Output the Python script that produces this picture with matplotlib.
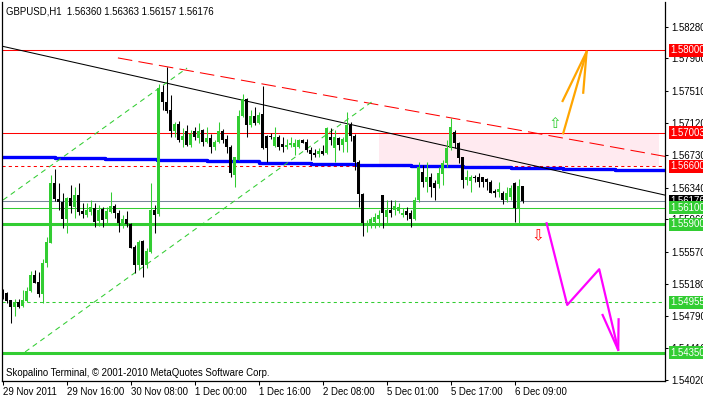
import numpy as np
import matplotlib
matplotlib.use('Agg')
import matplotlib.pyplot as plt
import matplotlib.transforms as mtransforms
from matplotlib.patches import Rectangle

TITLE = 'GBPUSD,H1  1.56360 1.56363 1.56157 1.56176'
COPYRIGHT = 'Skopalino Terminal, \u00a9 2001-2010 MetaQuotes Software Corp.'

# H1 candles, bar 0 = 29 Nov 2011 00:00
OPEN = [1.55094, 1.55070, 1.54985, 1.54901, 1.54961, 1.54913, 1.54973, 1.55094, 1.55287, 1.55202,
        1.55057, 1.55432, 1.55673, 1.56397, 1.56204, 1.56168, 1.55963, 1.56216, 1.56108, 1.56252,
        1.56059, 1.56011, 1.56047, 1.56095, 1.55939, 1.56083, 1.55963, 1.56047, 1.56120, 1.56035,
        1.55902, 1.55963, 1.55902, 1.55625, 1.55407, 1.55697, 1.55407, 1.55564, 1.56071, 1.56023,
        1.57496, 1.57375, 1.57278, 1.57025, 1.57109, 1.56916, 1.57025, 1.56856, 1.57025, 1.56940,
        1.57037, 1.56892, 1.56940, 1.56832, 1.56892, 1.57025, 1.56928, 1.56832, 1.56494, 1.56675,
        1.57206, 1.57411, 1.57097, 1.57206, 1.57121, 1.57230, 1.56964, 1.56964, 1.56844, 1.56952,
        1.56868, 1.56832, 1.56856, 1.56832, 1.56832, 1.56916, 1.56892, 1.56796, 1.56759, 1.56747,
        1.56783, 1.56759, 1.56952, 1.56820, 1.56940, 1.56856, 1.56892, 1.57097, 1.56964, 1.56651,
        1.56264, 1.55890, 1.55902, 1.55926, 1.55963, 1.56252, 1.55987, 1.56071, 1.56071, 1.56059,
        1.56011, 1.56059, 1.56035, 1.55963, 1.56192, 1.56530, 1.56409, 1.56470, 1.56397, 1.56385,
        1.56506, 1.56639, 1.56820, 1.57013, 1.56880, 1.56711, 1.56433, 1.56421, 1.56470, 1.56470,
        1.56470, 1.56446, 1.56409, 1.56301, 1.56289, 1.56277, 1.56192, 1.56228, 1.56397, 1.56095,
        1.56360]
HIGH = [1.55118, 1.55082, 1.54985, 1.54997, 1.54997, 1.55106, 1.55142, 1.55335, 1.55347, 1.55323,
        1.55480, 1.55745, 1.56494, 1.56566, 1.56397, 1.56277, 1.56228, 1.56373, 1.56349, 1.56397,
        1.56156, 1.56156, 1.56192, 1.56156, 1.56132, 1.56108, 1.56108, 1.56289, 1.56144, 1.56071,
        1.56011, 1.56059, 1.55914, 1.55649, 1.55709, 1.55709, 1.55613, 1.56397, 1.56132, 1.57592,
        1.57580, 1.57797, 1.57459, 1.57133, 1.57146, 1.57061, 1.57097, 1.57037, 1.57073, 1.57121,
        1.57049, 1.57073, 1.56989, 1.56916, 1.57133, 1.57049, 1.56977, 1.56856, 1.56711, 1.57278,
        1.57471, 1.57423, 1.57278, 1.57315, 1.57254, 1.57568, 1.56977, 1.57001, 1.57073, 1.56977,
        1.56952, 1.56928, 1.56952, 1.56928, 1.56928, 1.56928, 1.56928, 1.56832, 1.56808, 1.56820,
        1.56856, 1.57073, 1.57061, 1.57037, 1.56952, 1.56952, 1.57254, 1.57133, 1.56989, 1.56675,
        1.56277, 1.55951, 1.55987, 1.56035, 1.56071, 1.56252, 1.56192, 1.56192, 1.56192, 1.56156,
        1.56095, 1.56108, 1.56071, 1.56228, 1.56651, 1.56614, 1.56651, 1.56518, 1.56433, 1.56590,
        1.56675, 1.56916, 1.57182, 1.57037, 1.56892, 1.56711, 1.56554, 1.56494, 1.56494, 1.56518,
        1.56470, 1.56458, 1.56433, 1.56325, 1.56409, 1.56301, 1.56349, 1.56373, 1.56409, 1.56446,
        1.56363]
LOW = [1.54997, 1.54949, 1.54707, 1.54792, 1.54888, 1.54901, 1.54961, 1.55082, 1.55190, 1.55021,
       1.54949, 1.55383, 1.55673, 1.56180, 1.56071, 1.55854, 1.55794, 1.56035, 1.55975, 1.56011,
       1.55975, 1.55987, 1.56011, 1.55866, 1.55878, 1.55866, 1.55914, 1.56035, 1.55975, 1.55806,
       1.55854, 1.55866, 1.55613, 1.55311, 1.55347, 1.55263, 1.55371, 1.55552, 1.55794, 1.55999,
       1.57278, 1.57242, 1.56952, 1.56952, 1.56892, 1.56832, 1.56844, 1.56832, 1.56916, 1.56880,
       1.56844, 1.56880, 1.56759, 1.56796, 1.56880, 1.56880, 1.56759, 1.56470, 1.56349, 1.56675,
       1.57194, 1.56952, 1.57073, 1.57097, 1.57109, 1.56808, 1.56651, 1.56928, 1.56832, 1.56796,
       1.56771, 1.56808, 1.56832, 1.56735, 1.56820, 1.56880, 1.56771, 1.56675, 1.56711, 1.56711,
       1.56735, 1.56747, 1.56856, 1.56651, 1.56796, 1.56771, 1.56771, 1.56904, 1.56554, 1.56108,
       1.55758, 1.55806, 1.55854, 1.55854, 1.55866, 1.55854, 1.55914, 1.55987, 1.56011, 1.56035,
       1.55987, 1.55951, 1.55866, 1.55951, 1.56168, 1.56349, 1.56289, 1.56228, 1.56192, 1.56337,
       1.56373, 1.56590, 1.56796, 1.56820, 1.56639, 1.56337, 1.56373, 1.56289, 1.56409, 1.56349,
       1.56349, 1.56313, 1.56277, 1.56228, 1.56228, 1.56144, 1.56168, 1.56192, 1.55926, 1.55914,
       1.56157]
CLOSE = [1.55009, 1.54973, 1.54901, 1.54961, 1.54901, 1.54985, 1.55094, 1.55287, 1.55190, 1.55057,
         1.55432, 1.55685, 1.56397, 1.56204, 1.56168, 1.55963, 1.56216, 1.56120, 1.56252, 1.56047,
         1.56023, 1.56071, 1.56108, 1.55926, 1.56071, 1.55951, 1.56059, 1.56120, 1.56035, 1.55914,
         1.55963, 1.55902, 1.55613, 1.55407, 1.55685, 1.55407, 1.55576, 1.56071, 1.56011, 1.57544,
         1.57375, 1.57266, 1.57025, 1.57109, 1.56916, 1.56964, 1.56856, 1.56989, 1.56952, 1.57025,
         1.56892, 1.56940, 1.56832, 1.56892, 1.57025, 1.56916, 1.56832, 1.56518, 1.56711, 1.57206,
         1.57411, 1.57097, 1.57206, 1.57121, 1.57218, 1.56820, 1.56820, 1.56952, 1.56952, 1.56832,
         1.56832, 1.56856, 1.56880, 1.56880, 1.56916, 1.56880, 1.56796, 1.56747, 1.56735, 1.56783,
         1.56747, 1.57061, 1.56916, 1.56952, 1.56856, 1.56928, 1.57097, 1.56964, 1.56651, 1.56264,
         1.55914, 1.55914, 1.55963, 1.55987, 1.56011, 1.56035, 1.56071, 1.56035, 1.56120, 1.56108,
         1.56035, 1.56011, 1.55963, 1.56192, 1.56590, 1.56409, 1.56470, 1.56349, 1.56337, 1.56518,
         1.56639, 1.56820, 1.57073, 1.56880, 1.56699, 1.56433, 1.56470, 1.56470, 1.56458, 1.56409,
         1.56409, 1.56409, 1.56277, 1.56277, 1.56325, 1.56192, 1.56277, 1.56337, 1.56095, 1.56361,
         1.56176]

# time axis: one label every 16 bars
XTICK_BARS = [0, 16, 32, 48, 64, 80, 96, 112, 128]
XTICK_LABELS = ['29 Nov 2011', '29 Nov 16:00', '30 Nov 08:00', '1 Dec 00:00', '1 Dec 16:00',
                '2 Dec 08:00', '5 Dec 01:00', '5 Dec 17:00', '6 Dec 09:00']
YTICKS = [1.58280, 1.57900, 1.57510, 1.57120, 1.56730, 1.56340, 1.55960,
          1.55570, 1.55180, 1.54790, 1.54410, 1.54020]

# horizontal levels (price, colour, width, style) + boxed labels
LEVELS = [1.58000, 1.57003, 1.56600, 1.56176, 1.56100, 1.55900, 1.54955, 1.54350]
LEVEL_COLORS = ['red', 'red', 'red', '#778899', '#32cd32', '#32cd32', '#32cd32', '#32cd32']
LEVEL_BOX = ['red', 'red', 'red', 'black', '#32cd32', '#32cd32', '#32cd32', '#32cd32']
LEVEL_WIDTH = [0.75, 0.75, 0.75, 0.75, 0.75, 2.2, 0.75, 2.2]
LEVEL_STYLE = ['-', '-', (0, (3, 3)), '-', '-', '-', (0, (3, 3)), '-']

# stepped blue line (bar edges, price)
BLUE_EDGES = [-1, 13, 25.5, 38.5, 51, 64, 77, 88.5, 102, 115, 127, 140, 153, 166]
BLUE_LEVELS = [1.56705, 1.56693, 1.56683, 1.56675, 1.56659, 1.56639, 1.56623,
               1.56615, 1.56602, 1.56590, 1.56582, 1.56570, 1.56560]

# trend lines (bar, price)
BLACK_TREND = ([0, 165.6], [1.58047, 1.56251])
RED_CHANNEL = ([28.8, 165.6], [1.57907, 1.56718])
GREEN_LOWER = ([5.6, 92.6], [1.54358, 1.57387])
GREEN_UPPER = ([0.1, 46.1], [1.56192, 1.57785])

# pink zone
ZONE_BARS = (94.1, 164.1)
ZONE_PRICES = (1.56600, 1.57003)

# projected moves
ORANGE_MAIN = ([140.15, 146.0], [1.56997, 1.57982])
ORANGE_HEAD = ([140.0, 146.0, 145.15], [1.57387, 1.57982, 1.57487])
MAGENTA_PATH = ([136.0, 141.15, 149.15, 153.9], [1.55911, 1.54925, 1.55356, 1.54382])
MAGENTA_HEAD = ([150.0, 153.9, 154.0], [1.54804, 1.54382, 1.54752])
UP_SIGNAL = (138.1, 1.57115)
DOWN_SIGNAL = (133.7, 1.55764)

GREEN = '#32cd32'
W, H = 703, 398

plt.rcParams['font.family'] = ['Liberation Sans', 'DejaVu Sans']
plt.rcParams['font.size'] = 6.7

fig = plt.figure(figsize=(W / 100, H / 100), dpi=100)
ax = fig.add_axes([2 / W, 1 - 381 / H, 663 / W, 379 / H])

ax.add_patch(Rectangle((ZONE_BARS[0], ZONE_PRICES[0]), ZONE_BARS[1] - ZONE_BARS[0],
                       ZONE_PRICES[1] - ZONE_PRICES[0], facecolor='#ffeaf0', edgecolor='none', zorder=0))

for lv, c, w, s in zip(LEVELS, LEVEL_COLORS, LEVEL_WIDTH, LEVEL_STYLE):
    ax.axhline(lv, color=c, lw=w, ls=s, zorder=1)

ax.step(BLUE_EDGES, BLUE_LEVELS + [BLUE_LEVELS[-1]], where='post', color='blue', lw=2.4, zorder=2)

ax.plot(*BLACK_TREND, color='black', lw=0.75, zorder=2)
ax.plot(*RED_CHANNEL, color='red', lw=0.75, ls=(0, (14, 6)), zorder=2)
ax.plot(*GREEN_LOWER, color=GREEN, lw=0.75, ls=(0, (5, 4)), zorder=2)
ax.plot(*GREEN_UPPER, color=GREEN, lw=0.75, ls=(0, (5, 4)), zorder=2)

# candles
x = np.arange(len(OPEN))
o, h, l, c = map(np.array, (OPEN, HIGH, LOW, CLOSE))
col = np.where(c >= o, GREEN, 'black')
ax.vlines(x, l, h, colors=col, lw=0.75, zorder=3)
ax.bar(x, np.maximum(np.abs(c - o), 0.00012), bottom=np.minimum(o, c), width=0.75,
       color=col, linewidth=0, zorder=3)

ax.plot(*ORANGE_MAIN, color='orange', lw=1.6, zorder=4)
ax.plot(*ORANGE_HEAD, color='orange', lw=1.6, zorder=4)
ax.plot(*MAGENTA_PATH, color='magenta', lw=1.6, zorder=4)
ax.plot(*MAGENTA_HEAD, color='magenta', lw=1.6, zorder=4)
ax.text(*UP_SIGNAL, '\u21e7', color=GREEN, fontsize=11, ha='center', va='center',
        family='DejaVu Sans', zorder=4)
ax.text(*DOWN_SIGNAL, '\u21e9', color='red', fontsize=11, ha='center', va='center',
        family='DejaVu Sans', zorder=4)

ax.set_xlim(-0.18, 165.6)
ax.set_ylim(1.54007, 1.58582)

ax.yaxis.tick_right()
ax.set_yticks(YTICKS)
ax.set_yticklabels([f'{v:.5f}' for v in YTICKS])
ax.set_xticks(XTICK_BARS)
ax.set_xticklabels(XTICK_LABELS, ha='left')
ax.tick_params(axis='y', direction='out', length=2.2, width=0.75, pad=2.0, labelsize=6.9)
ax.tick_params(axis='x', direction='out', length=3, width=0.75, pad=1.5, labelsize=6.9)
ax.spines['top'].set_visible(False)
for s in ('left', 'right', 'bottom'):
    ax.spines[s].set_linewidth(0.9)

# boxed price labels on the right scale
trans = mtransforms.blended_transform_factory(ax.transAxes, ax.transData)
for lv, bc in zip(LEVELS, LEVEL_BOX):
    ax.text(1 + 5.5 / 663, lv, f'{lv:.5f}', transform=trans, ha='left', va='center',
            color='white', fontsize=6.9, clip_on=False, zorder=6,
            bbox=dict(boxstyle='square,pad=0.15', facecolor=bc, edgecolor='none'))

fig.text(6 / W, 1 - 11 / H, TITLE, ha='left', va='center', fontsize=6.9)
fig.text(6 / W, 1 - 372.5 / H, COPYRIGHT, ha='left', va='center', fontsize=6.9)

fig.savefig('out.png', dpi=100, facecolor='white')
